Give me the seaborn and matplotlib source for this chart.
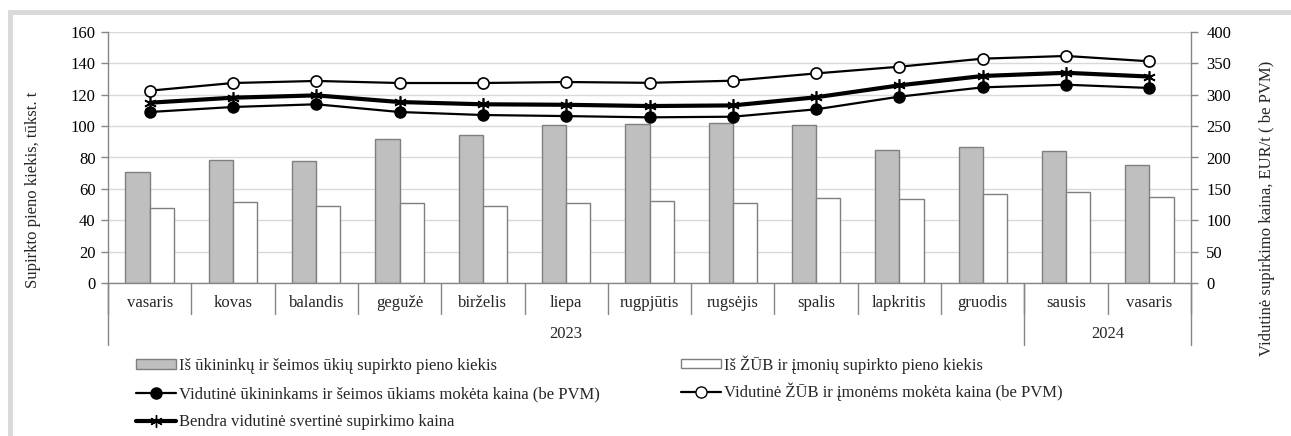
import numpy as np
import pandas as pd
import matplotlib
matplotlib.use("Agg")
import matplotlib.pyplot as plt
import seaborn as sns
from matplotlib.lines import Line2D
from matplotlib.patches import Patch, Rectangle

# ---------------- data ----------------
months = ["vasaris", "kovas", "balandis", "gegužė", "birželis", "liepa", "rugpjūtis",
          "rugsėjis", "spalis", "lapkritis", "gruodis", "sausis", "vasaris"]
years = ["2023", "2024"]
year_counts = [11, 2]

farm_qty = [70.5, 78.5, 78.0, 92.0, 94.5, 100.5, 101.5, 102.0, 101.0, 85.0, 87.0, 84.0, 75.5]
coop_qty = [47.5, 51.5, 49.0, 51.0, 49.0, 51.0, 52.5, 51.0, 54.5, 53.5, 56.5, 58.0, 55.0]

farm_price = [272.5, 280.5, 284.8, 272.5, 267.7, 266.0, 264.0, 265.0, 276.8, 297.0, 311.8, 316.0, 310.8]
coop_price = [306.5, 318.7, 322.0, 318.7, 318.7, 320.3, 319.0, 322.4, 334.0, 344.7, 357.5, 361.8, 353.3]
avg_price = [287.3, 295.3, 299.0, 288.4, 284.8, 284.0, 282.0, 283.0, 296.0, 315.0, 329.9, 335.0, 329.0]

lab_farm_q = "Iš ūkininkų ir šeimos ūkių supirkto pieno kiekis"
lab_coop_q = "Iš ŽŪB ir įmonių supirkto pieno kiekis"
lab_farm_p = "Vidutinė ūkininkams ir šeimos ūkiams mokėta kaina (be PVM)"
lab_coop_p = "Vidutinė ŽŪB ir įmonėms mokėta kaina (be PVM)"
lab_avg_p = "Bendra vidutinė svertinė supirkimo kaina"

# ---------------- style ----------------
sns.set_theme(style="white")
plt.rcParams['font.family'] = 'serif'
plt.rcParams['font.serif'] = ['Liberation Serif', 'Times New Roman', 'DejaVu Serif']
FS = 12
plt.rcParams['font.size'] = FS

W, H = 1291, 436
fig = plt.figure(figsize=(W / 100, H / 100), dpi=100)
fig.patch.set_facecolor("white")

# grey frame (only top/left visible)
fig.patches.append(Rectangle((9.5 / W, -0.05), 1.2, 1 - 11.5 / H + 0.05, transform=fig.transFigure,
                             fill=False, edgecolor="#d9d9d9", linewidth=3.5, zorder=0))

x0, x1, yb, yt = 108, 1191, 283, 32
ax = fig.add_axes([x0 / W, 1 - yb / H, (x1 - x0) / W, (yb - yt) / H])
ax2 = ax.twinx()

n = len(months)
idx = list(range(n))
bars = pd.DataFrame({
    "idx": idx * 2,
    "value": farm_qty + coop_qty,
    "series": [lab_farm_q] * n + [lab_coop_q] * n,
})
sns.barplot(data=bars, x="idx", y="value", hue="series", hue_order=[lab_farm_q, lab_coop_q],
            palette=["#bfbfbf", "#ffffff"], width=0.58, gap=0, edgecolor="#7f7f7f",
            linewidth=1.0, ax=ax, legend=False, saturation=1)

ax.set_xlim(-0.5, n - 0.5)
ax.set_ylim(0, 160)
ax.set_yticks(np.arange(0, 161, 20))
ax.yaxis.grid(True, color="#d9d9d9", linewidth=1)
ax.set_axisbelow(True)
ax.set_xlabel("")
ax.set_ylabel("")
ax.set_xticks([])
for s in ["top", "right"]:
    ax.spines[s].set_visible(False)
for s in ["left", "bottom"]:
    ax.spines[s].set_color("#868686")
    ax.spines[s].set_linewidth(1)
ax.tick_params(axis="y", which="both", left=True, length=5, width=1, color="#868686",
               labelsize=FS, pad=4, labelcolor="black")

prices = pd.DataFrame({"idx": idx, "farm": farm_price, "coop": coop_price, "avg": avg_price})
sns.lineplot(data=prices, x="idx", y="farm", ax=ax2, color="black", linewidth=1.6, marker="o",
             markersize=8, markerfacecolor="black", markeredgecolor="black", markeredgewidth=1)
sns.lineplot(data=prices, x="idx", y="coop", ax=ax2, color="black", linewidth=1.6, marker="o",
             markersize=8, markerfacecolor="white", markeredgecolor="black", markeredgewidth=1.2)
sns.lineplot(data=prices, x="idx", y="avg", ax=ax2, color="black", linewidth=3, marker=(6, 2, 0),
             markersize=9, markeredgecolor="black", markeredgewidth=1.2)
ax2.set_ylim(0, 400)
ax2.set_yticks(np.arange(0, 401, 50))
ax2.set_xlim(-0.5, n - 0.5)
ax2.set_xlabel("")
ax2.set_ylabel("")
for s in ["top", "left", "bottom"]:
    ax2.spines[s].set_visible(False)
ax2.spines["right"].set_color("#868686")
ax2.spines["right"].set_linewidth(1)
ax2.tick_params(axis="y", which="both", right=True, length=5, width=1, color="#868686",
                labelsize=FS, pad=6, labelcolor="black")
ax2.grid(False)

# ---------------- multi-level category axis ----------------
def yfrac(ypix):
    return (yb - ypix) / (yb - yt)

trans = ax.get_xaxis_transform()
sep_col = "#868686"
for i in range(n + 1):
    ax.plot([i - 0.5, i - 0.5], [yfrac(283), yfrac(314)], transform=trans, color=sep_col,
            lw=1, clip_on=False)
for i, m in enumerate(months):
    ax.text(i, yfrac(303), m, transform=trans, ha="center", va="center", fontsize=FS)
start = 0
bounds = [0]
for y, c in zip(years, year_counts):
    ax.text(start + (c - 1) / 2, yfrac(334), y, transform=trans, ha="center", va="center",
            fontsize=FS)
    start += c
    bounds.append(start)
for b in bounds:
    ax.plot([b - 0.5, b - 0.5], [yfrac(283), yfrac(345)], transform=trans, color=sep_col,
            lw=1, clip_on=False)

# ---------------- axis titles ----------------
fig.text(33 / W, 1 - 190 / H, "Supirkto pieno kiekis, tūkst. t", rotation=90,
         ha="center", va="center", fontsize=FS)
fig.text(1267 / W, 1 - 208 / H, "Vidutinė supirkimo kaina, EUR/t ( be PVM)", rotation=90,
         ha="center", va="center", fontsize=FS)

# ---------------- legends ----------------
h_farm_q = Patch(facecolor="#bfbfbf", edgecolor="#7f7f7f", linewidth=1)
h_coop_q = Patch(facecolor="#ffffff", edgecolor="#7f7f7f", linewidth=1)
h_farm_p = Line2D([], [], color="black", lw=1.6, marker="o", markersize=8,
                  markerfacecolor="black", markeredgecolor="black")
h_coop_p = Line2D([], [], color="black", lw=1.6, marker="o", markersize=8,
                  markerfacecolor="white", markeredgecolor="black")
h_avg_p = Line2D([], [], color="black", lw=3, marker=(6, 2, 0), markersize=9,
                 markeredgecolor="black")

common = dict(frameon=False, loc="upper left", fontsize=FS, handlelength=2.4,
              handleheight=0.5, handletextpad=0.2, borderpad=0, borderaxespad=0)
fig.legend([h_farm_q, h_farm_p, h_avg_p], [lab_farm_q, lab_farm_p, lab_avg_p],
           bbox_to_anchor=(136 / W, 1 - 358 / H), labelspacing=0.72, **common)
fig.legend([h_coop_q, h_coop_p], [lab_coop_q, lab_coop_p],
           bbox_to_anchor=(681 / W, 1 - 355 / H), labelspacing=0.55, **common)

fig.savefig("out.png", dpi=100, facecolor="white")
